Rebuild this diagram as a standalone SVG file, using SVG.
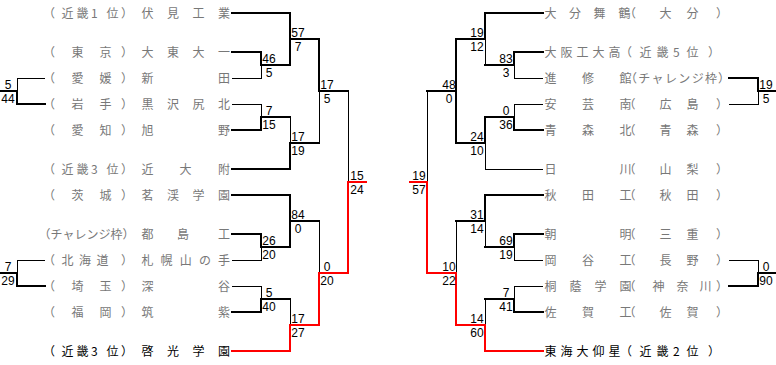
<svg xmlns="http://www.w3.org/2000/svg" width="776" height="365" viewBox="0 0 776 365">
<style>
.t{font-family:"Noto Sans CJK JP","Noto Sans CJK SC",sans-serif;font-size:12px;fill:#787878}
.b{fill:#000}
.n{font-family:"Liberation Sans",Arial,sans-serif;font-size:12px;fill:#000;text-anchor:middle}
.k{stroke:#000;stroke-width:1;fill:none}
.K{stroke:#000;stroke-width:2;fill:none;stroke-linecap:square}
.r{stroke:#f00;stroke-width:2;fill:none;stroke-linecap:square}
</style>
<rect width="776" height="365" fill="#fff"/>
<g id="connectors" shape-rendering="crispEdges">
<path class="K" d="M232 13H290V65M290 39H319V91H348"/>
<path class="K" d="M232 52H261V65H290"/>
<path class="k" d="M232 78H261V65"/>
<path class="k" d="M232 104H261V117"/>
<path class="K" d="M232 130H261V117H290"/>
<path class="k" d="M290 117V143"/>
<path class="K" d="M232 169H290V143H319"/>
<path class="k" d="M319 91V143M348 91V182"/>
<path class="r" d="M366 182H348V273"/>
<path class="K" d="M232 195H290V247M290 221H319"/>
<path class="K" d="M232 234H261V247H290"/>
<path class="k" d="M232 260H261V247"/>
<path class="k" d="M232 286H261V299"/>
<path class="K" d="M232 312H261V299H290"/>
<path class="k" d="M290 299V325M319 221V273"/>
<path class="r" d="M232 351H290V325H319V273H348"/>
<path class="k" d="M45 78H17V91"/>
<path class="K" d="M45 104H17V91H0"/>
<path class="k" d="M45 260H17V273"/>
<path class="K" d="M45 286H17V273H0"/>
<path class="K" d="M543 13H485V39H456V143M456 91H427"/>
<path class="k" d="M485 39V65"/>
<path class="K" d="M543 52H514V65H485"/>
<path class="k" d="M543 78H514V65"/>
<path class="k" d="M543 104H514V117"/>
<path class="K" d="M543 130H514V117H485V143H456"/>
<path class="k" d="M543 169H485V143M427 91V182"/>
<path class="r" d="M410 182H427V273"/>
<path class="K" d="M543 195H485V221H456"/>
<path class="k" d="M485 221V247"/>
<path class="K" d="M543 234H514V247H485"/>
<path class="k" d="M543 260H514V247"/>
<path class="k" d="M543 286H514V299"/>
<path class="K" d="M543 312H514V299H485"/>
<path class="k" d="M485 299V325M456 221V273"/>
<path class="r" d="M543 351H485V325H456V273H427"/>
<path class="K" d="M729 78H758V91H776"/>
<path class="k" d="M729 104H758V91"/>
<path class="k" d="M729 260H758V273"/>
<path class="K" d="M729 286H758V273H776"/>
</g>
<g id="scores">
<text class="n" x="8" y="89">5</text><text class="n" x="8" y="103">44</text>
<text class="n" x="8" y="271">7</text><text class="n" x="8" y="285">29</text>
<text class="n" x="269" y="63">46</text><text class="n" x="269" y="77">5</text>
<text class="n" x="269" y="115">7</text><text class="n" x="269" y="129">15</text>
<text class="n" x="298" y="37">57</text><text class="n" x="298" y="51">7</text>
<text class="n" x="298" y="141">17</text><text class="n" x="298" y="155">19</text>
<text class="n" x="327" y="89">17</text><text class="n" x="327" y="103">5</text>
<text class="n" x="357" y="180">15</text><text class="n" x="357" y="194">24</text>
<text class="n" x="269" y="245">26</text><text class="n" x="269" y="259">20</text>
<text class="n" x="269" y="297">5</text><text class="n" x="269" y="311">40</text>
<text class="n" x="298" y="219">84</text><text class="n" x="298" y="233">0</text>
<text class="n" x="298" y="323">17</text><text class="n" x="298" y="337">27</text>
<text class="n" x="327" y="271">0</text><text class="n" x="327" y="285">20</text>
<text class="n" x="506" y="63">83</text><text class="n" x="506" y="77">3</text>
<text class="n" x="506" y="115">0</text><text class="n" x="506" y="129">36</text>
<text class="n" x="477" y="37">19</text><text class="n" x="477" y="51">12</text>
<text class="n" x="477" y="141">24</text><text class="n" x="477" y="155">10</text>
<text class="n" x="449" y="89">48</text><text class="n" x="449" y="103">0</text>
<text class="n" x="419" y="180">19</text><text class="n" x="419" y="194">57</text>
<text class="n" x="506" y="245">69</text><text class="n" x="506" y="259">19</text>
<text class="n" x="506" y="297">7</text><text class="n" x="506" y="311">41</text>
<text class="n" x="477" y="219">31</text><text class="n" x="477" y="233">14</text>
<text class="n" x="477" y="323">14</text><text class="n" x="477" y="337">60</text>
<text class="n" x="449" y="271">10</text><text class="n" x="449" y="285">22</text>
<text class="n" x="766" y="89">19</text><text class="n" x="766" y="103">5</text>
<text class="n" x="766" y="271">0</text><text class="n" x="766" y="285">90</text>
</g>
<g id="team-fushimi"><text class="t" x="43 61.5 76.5 91 106.5 121 141.5 167 192.5 218" y="18">（近畿1位）伏見工業</text></g>
<g id="team-daitodaiichi"><text class="t" x="43 71.5 99.5 121 141.5 167 192.5 218" y="57">（東京）大東大一</text></g>
<g id="team-nitta"><text class="t" x="43 71.5 99.5 121 141.5 218" y="83">（愛媛）新田</text></g>
<g id="team-kurosawajirikita"><text class="t" x="43 71.5 99.5 121 141.5 167 192.5 218" y="109">（岩手）黒沢尻北</text></g>
<g id="team-asahino"><text class="t" x="43 71.5 99.5 121 141.5 218" y="135">（愛知）旭野</text></g>
<g id="team-kindaifu"><text class="t" x="43 61.5 76.5 91 106.5 121 141.5 179.5 218" y="174">（近畿3位）近大附</text></g>
<g id="team-meikei"><text class="t" x="43 71.5 99.5 121 141.5 167 192.5 218" y="200">（茨城）茗渓学園</text></g>
<g id="team-miyakojima"><text class="t" x="38.5" y="239">（チャレンジ枠）</text><text class="t" x="141.5 177 218" y="239">都島工</text></g>
<g id="team-sapporoyamanote"><text class="t" x="43 61.5 79 96.5 121 141.5 160.6 179.75 198.9 218" y="265">（北海道）札幌山の手</text></g>
<g id="team-fukaya"><text class="t" x="43 71.5 99.5 121 141.5 218" y="291">（埼玉）深谷</text></g>
<g id="team-chikushi"><text class="t" x="43 71.5 99.5 121 141.5 218" y="317">（福岡）筑紫</text></g>
<g id="team-keiko"><text class="t b" x="43 61.5 76.5 91 106.5 121 141.5 167 192.5 218" y="356">（近畿3位）啓光学園</text></g>
<g id="team-oitamaizuru"><text class="t" x="544.5 569 593.5 618.5 624 659.5 686.5 716" y="18">大分舞鶴（大分）</text></g>
<g id="team-osakakodaiko"><text class="t" x="544.5 560.5 576.5 592.5 608.5 620 639.5 656.5 673 686.5 708" y="57">大阪工大高（近畿5位）</text></g>
<g id="team-shinshukan"><text class="t" x="544.5 582 619.5" y="83">進修館</text><text class="t" x="625" y="83" textLength="92" lengthAdjust="spacing">（チャレンジ枠</text><text class="t" x="718" y="83">）</text></g>
<g id="team-akiminami"><text class="t" x="544.5 582 619.5 623.5 659.5 686.5 716" y="109">安芸南（広島）</text></g>
<g id="team-aomorikita"><text class="t" x="544.5 582 619.5 623.5 659.5 686.5 716" y="135">青森北（青森）</text></g>
<g id="team-hikawa"><text class="t" x="544.5 619.5 623.5 659.5 686.5 716" y="174">日川（山梨）</text></g>
<g id="team-akitako"><text class="t" x="544.5 582 619.5 623.5 659.5 686.5 716" y="200">秋田工（秋田）</text></g>
<g id="team-asake"><text class="t" x="544.5 619.5 623.5 659.5 686.5 716" y="239">朝明（三重）</text></g>
<g id="team-okayako"><text class="t" x="544.5 582 619.5 623.5 659.5 686.5 716" y="265">岡谷工（長野）</text></g>
<g id="team-toingakuen"><text class="t" x="544.5 569.5 594.5 619.5 623.5 652.5 676.5 699.5 716" y="291">桐蔭学園（神奈川）</text></g>
<g id="team-sagako"><text class="t" x="544.5 582 619.5 623.5 659.5 686.5 716" y="317">佐賀工（佐賀）</text></g>
<g id="team-tokaidaigyosei"><text class="t b" x="544.5 560.5 576.5 592.5 608.5 620 639.5 656.5 673 686.5 708" y="356">東海大仰星（近畿2位）</text></g>
</svg>
